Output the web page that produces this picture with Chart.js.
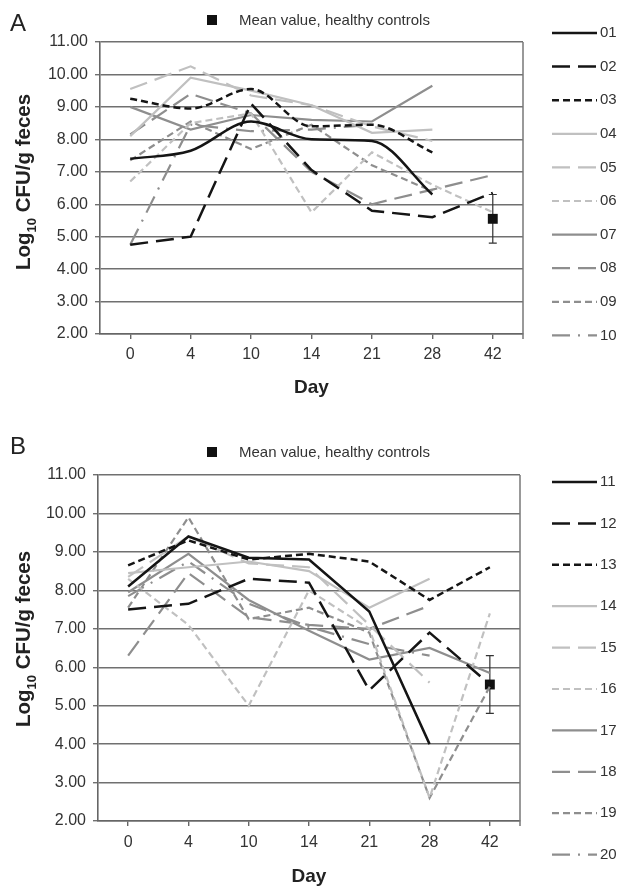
<!DOCTYPE html>
<html>
<head>
<meta charset="utf-8">
<script src="https://cdn.jsdelivr.net/npm/chart.js@4.4.0/dist/chart.umd.min.js"></script>
<style>
  body { margin: 0; background: #fff; font-family: "Liberation Sans", Arial, sans-serif; color: #222; }
  #page { position: relative; width: 621px; height: 889px; overflow: hidden; }
  canvas { position: absolute; left: 0; }
  .letter { position: absolute; font-size: 24px; line-height: 24px; color: #222; }
  .ytitle { position: absolute; transform: translate(-50%, -50%) rotate(-90deg); white-space: nowrap;
            font-weight: bold; font-size: 20.5px; color: #222; }
  .ytitle sub { font-size: 13px; }
  .key { position: absolute; font-size: 15px; line-height: 15px; color: #333; white-space: nowrap; display: flex; align-items: center; }
  .key i { display: inline-block; width: 10px; height: 10px; background: #111; margin-right: 22px; }
</style>
</head>
<body>
<div id="page">
  <canvas id="chartA" width="621" height="440" style="top:0"></canvas>
  <canvas id="chartB" width="621" height="449" style="top:440px"></canvas>
  <div class="letter" style="left:10px; top:11px">A</div>
  <div class="letter" style="left:10px; top:434px">B</div>
  <div class="key" style="left:207px; top:12px"><i></i>Mean value, healthy controls</div>
  <div class="key" style="left:207px; top:444px"><i></i>Mean value, healthy controls</div>
  <div class="ytitle" style="left:25px; top:182px">Log<sub>10</sub> CFU/g feces</div>
  <div class="ytitle" style="left:25px; top:639px">Log<sub>10</sub> CFU/g feces</div>
</div>
<script>
// x categories (days) and y range
const days = ['0', '4', '10', '14', '21', '28', '42'];
const yMin = 2;
const yMax = 11;

// panel A, patients 01-10
const namesA = ['01', '02', '03', '04', '05', '06', '07', '08', '09', '10'];
const p01 = [7.4, 7.65, 8.55, 8.0, 7.95, 6.3, null];
const p02 = [4.75, 5.0, 9.1, 7.05, 5.8, 5.6, 6.35];
const p03 = [9.25, 8.95, 9.55, 8.4, 8.45, 7.6, null];
const p04 = [8.1, 9.9, 9.5, 9.05, 8.2, 8.3, null];
const p05 = [9.55, 10.25, 9.35, 9.05, 8.4, 7.95, null];
const p06 = [6.7, 8.5, 8.8, 5.75, 7.6, 6.6, 5.75];
const p07 = [9.0, 8.3, 8.75, 8.6, 8.55, 9.65, null];
const p08 = [8.15, 9.4, 8.8, 7.0, 6.0, 6.45, 6.9];
const p09 = [7.35, 8.55, 7.7, 8.45, 7.2, 6.4, null];
const p10 = [4.75, 8.45, 8.25, 8.3, 8.45, null, null];

// panel B, patients 11-20
const namesB = ['11', '12', '13', '14', '15', '16', '17', '18', '19', '20'];
const p11 = [8.1, 9.4, 8.85, 8.8, 7.45, 4.0, null];
const p12 = [7.5, 7.65, 8.3, 8.2, 5.4, 6.9, 5.55];
const p13 = [8.65, 9.3, 8.8, 8.95, 8.75, 7.75, 8.6];
const p14 = [8.45, 8.6, 8.75, 8.5, 7.55, 8.3, null];
const p15 = [8.35, 9.4, 8.7, 8.6, 7.1, 5.6, null];
const p16 = [8.3, 7.1, 5.0, 8.0, 7.0, 2.6, 7.4];
const p17 = [7.95, 8.95, 7.75, 6.95, 6.2, 6.5, 5.85];
const p18 = [6.3, 8.45, 7.3, 7.1, 7.0, 7.6, null];
const p19 = [7.55, 9.9, 7.25, 7.55, 6.9, 2.6, 5.5];
const p20 = [7.85, 8.75, 7.65, 7.05, 6.6, 6.3, null];

// mean value of healthy controls at day 42, with its range
const meanDay = '42';
const meanValue = 5.55;
const meanLow = 4.8;
const meanHigh = 6.3;

const black = '#151515', light = '#c0c0c0', mid = '#8e8e8e';
const lineStyles = [
    { color: black, dash: [], width: 2.5 },
    { color: black, dash: [18, 8], width: 2.5 },
    { color: black, dash: [7, 4], width: 2.5 },
    { color: light, dash: [], width: 2.2 },
    { color: light, dash: [18, 8], width: 2.2 },
    { color: light, dash: [7, 4], width: 2.2 },
    { color: mid, dash: [], width: 2.2 },
    { color: mid, dash: [18, 8], width: 2.2 },
    { color: mid, dash: [7, 4], width: 2.2 },
    { color: mid, dash: [18, 8, 2, 8], width: 2.2 },
];

const panelDecor = {
    id: 'panelDecor',
    beforeDatasetsDraw(chart) {
        const { ctx, scales: { x, y } } = chart;
        const px = x.getPixelForValue(days.indexOf(meanDay));
        ctx.save();
        ctx.strokeStyle = '#333';
        ctx.lineWidth = 1.2;
        ctx.beginPath();
        ctx.moveTo(px, y.getPixelForValue(meanLow));
        ctx.lineTo(px, y.getPixelForValue(meanHigh));
        [meanLow, meanHigh].forEach(v => {
            ctx.moveTo(px - 4, y.getPixelForValue(v));
            ctx.lineTo(px + 4, y.getPixelForValue(v));
        });
        ctx.stroke();
        ctx.restore();
    },
    afterDraw(chart, args, opts) {
        const { ctx, chartArea: a } = chart;
        ctx.save();
        // right frame of the plot
        ctx.strokeStyle = '#777';
        ctx.lineWidth = 1.5;
        ctx.beginPath();
        ctx.moveTo(a.right, a.top);
        ctx.lineTo(a.right, a.bottom + 5);
        ctx.stroke();
        // legend on the right
        chart.data.datasets.forEach((ds, i) => {
            if (ds.isMean) return;
            const yy = opts.legendTop + i * opts.legendStep;
            ctx.setLineDash(ds.borderDash);
            ctx.strokeStyle = ds.borderColor;
            ctx.lineWidth = ds.borderWidth;
            ctx.beginPath();
            ctx.moveTo(552, yy);
            ctx.lineTo(597, yy);
            ctx.stroke();
            ctx.setLineDash([]);
            ctx.fillStyle = '#333';
            ctx.font = '15px "Liberation Sans", Arial, sans-serif';
            ctx.textBaseline = 'middle';
            ctx.fillText(ds.label, 600, yy);
        });
        ctx.restore();
    }
};

function makeChart(id, names, series, cfg) {
    const datasets = series.map((vals, i) => ({
        label: names[i],
        data: vals,
        borderColor: lineStyles[i].color,
        borderDash: lineStyles[i].dash,
        borderWidth: lineStyles[i].width,
        pointRadius: 0,
        fill: false,
        // curves 01 and 03 of panel A are smoothed in the original
        cubicInterpolationMode: cfg.smooth && (i === 0 || i === 2) ? 'monotone' : 'default',
        tension: 0,
    }));
    datasets.push({
        label: 'Mean value, healthy controls',
        isMean: true,
        data: days.map(d => d === meanDay ? meanValue : null),
        showLine: false,
        pointStyle: 'rect',
        pointRadius: 7,
        backgroundColor: '#111',
        borderColor: '#111',
        borderWidth: 0,
    });

    return new Chart(document.getElementById(id), {
        type: 'line',
        data: { labels: days, datasets: datasets },
        plugins: [panelDecor],
        options: {
            responsive: false,
            animation: false,
            layout: { padding: { top: cfg.top, right: cfg.right, left: 0, bottom: 0 } },
            plugins: {
                legend: { display: false },
                tooltip: { enabled: false },
                panelDecor: { legendTop: cfg.legendTop, legendStep: cfg.legendStep }
            },
            scales: {
                x: {
                    offset: true,
                    grid: { drawOnChartArea: false, offset: false, tickLength: 5, color: '#666', lineWidth: 1.4 },
                    border: { color: '#666', width: 1.6 },
                    ticks: { color: '#333', font: { size: 16, family: '"Liberation Sans", Arial' }, padding: cfg.tickPad, maxRotation: 0 },
                    title: {
                        display: true, text: 'Day', color: '#222',
                        font: { size: 19, weight: 'bold', family: '"Liberation Sans", Arial' },
                        padding: { top: 0, bottom: cfg.titlePad }
                    },
                    afterFit: s => { s.height = cfg.xHeight; }
                },
                y: {
                    min: yMin,
                    max: yMax,
                    ticks: {
                        stepSize: 1, color: '#333', padding: 7,
                        font: { size: 16, family: '"Liberation Sans", Arial' },
                        callback: v => v.toFixed(2)
                    },
                    grid: { color: '#707070', lineWidth: 1.4, tickLength: 5 },
                    border: { color: '#666', width: 1.6 },
                    afterFit: s => { s.width = cfg.axisWidth; }
                }
            }
        }
    });
}

makeChart('chartA', namesA, [p01, p02, p03, p04, p05, p06, p07, p08, p09, p10], {
    top: 42, right: 98, axisWidth: 100, xHeight: 106, tickPad: 6, titlePad: 41,
    legendTop: 33, legendStep: 33.6, smooth: true
});
makeChart('chartB', namesB, [p11, p12, p13, p14, p15, p16, p17, p18, p19, p20], {
    top: 35, right: 101, axisWidth: 98, xHeight: 68, tickPad: 7, titlePad: 1,
    legendTop: 42, legendStep: 41.4, smooth: false
});
</script>
</body>
</html>
